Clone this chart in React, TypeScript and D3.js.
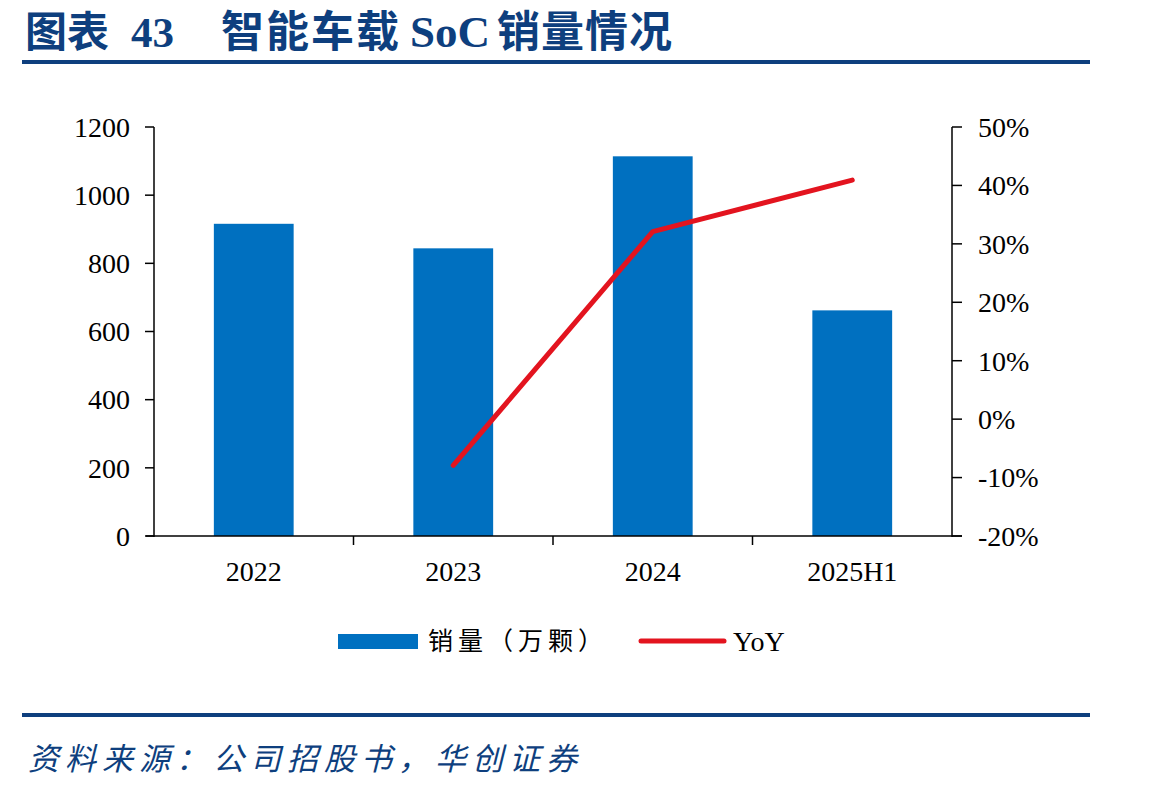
import React from "react";
import * as d3 from "d3";

// Sales volume of in-vehicle intelligent SoCs (10k units) and year-on-year growth
const categories = ["2022", "2023", "2024", "2025H1"];
const salesValues = [916, 844, 1114, 662];
const yoyValues: (number | null)[] = [null, -7.9, 32.1, 40.9];
const leftTicks = [0, 200, 400, 600, 800, 1000, 1200];
const rightTicks = [-20, -10, 0, 10, 20, 30, 40, 50];

const W = 1149;
const H = 792;
const plot = { left: 154, right: 952, top: 127, bottom: 536 };

const navy = "#0E3F7E";
const barColor = "#0070C0";
const lineColor = "#E3141F";
const serif = "'Liberation Serif', 'Times New Roman', 'Noto Sans CJK SC', serif";
const cjk = "'Noto Sans CJK SC', 'Liberation Serif', sans-serif";

export default function App() {
  const x = d3
    .scaleBand<string>()
    .domain(categories)
    .range([plot.left, plot.right])
    .paddingInner(0.6)
    .paddingOuter(0.3);
  const band = d3.scaleBand<string>().domain(categories).range([plot.left, plot.right]);
  const yL = d3.scaleLinear().domain([0, 1200]).range([plot.bottom, plot.top]);
  const yR = d3.scaleLinear().domain([-20, 50]).range([plot.bottom, plot.top]);

  const linePts = categories
    .map((c, i) => ({ c, v: yoyValues[i] }))
    .filter((d) => d.v !== null) as { c: string; v: number }[];
  const linePath = d3
    .line<{ c: string; v: number }>()
    .x((d) => (band(d.c) as number) + band.bandwidth() / 2)
    .y((d) => yR(d.v))(linePts);

  const boundaries = categories.slice(1).map((c) => band(c) as number);

  return (
    <svg
      width={W}
      height={H}
      style={{ position: "absolute", left: 0, top: 0, background: "#fff" }}
    >
      {/* title */}
      <text y={47} fill={navy} fontWeight="bold" fontSize={43} fontFamily={serif}>
        <tspan x={25} fontFamily={cjk} fontSize={42}>图表</tspan>
        <tspan x={131}>43</tspan>
        <tspan x={221} fontFamily={cjk} letterSpacing={2}>智能车载</tspan>
        <tspan x={410} fontSize={45}>SoC</tspan>
        <tspan x={497} fontFamily={cjk} letterSpacing={1}>销量情况</tspan>
      </text>
      <rect x={22} y={60} width={1068} height={4} fill={navy} />

      {/* bars */}
      {categories.map((c, i) => (
        <rect
          key={c}
          x={x(c)}
          y={yL(salesValues[i])}
          width={x.bandwidth()}
          height={plot.bottom - yL(salesValues[i])}
          fill={barColor}
        />
      ))}

      {/* axes */}
      <g stroke="#000" strokeWidth={1.5} fill="none">
        <line x1={plot.left} x2={plot.left} y1={plot.top} y2={plot.bottom + 1} />
        <line x1={plot.right} x2={plot.right} y1={plot.top} y2={plot.bottom + 1} />
        <line x1={plot.left - 8} x2={plot.right + 10} y1={plot.bottom} y2={plot.bottom} />
        {leftTicks.map((t) => (
          <line key={t} x1={plot.left - 9} x2={plot.left} y1={yL(t)} y2={yL(t)} />
        ))}
        {rightTicks.map((t) => (
          <line key={t} x1={plot.right} x2={plot.right + 10} y1={yR(t)} y2={yR(t)} />
        ))}
        {boundaries.map((b, i) => (
          <line key={i} x1={b} x2={b} y1={plot.bottom} y2={plot.bottom + 9} />
        ))}
      </g>

      {/* YoY line */}
      <path
        d={linePath || ""}
        fill="none"
        stroke={lineColor}
        strokeWidth={5}
        strokeLinecap="round"
        strokeLinejoin="round"
      />

      {/* tick labels */}
      <g fontFamily={serif} fontSize={28} fill="#000">
        {leftTicks.map((t) => (
          <text key={t} x={130} y={yL(t)} dy="0.35em" textAnchor="end">
            {t}
          </text>
        ))}
        {rightTicks.map((t) => (
          <text key={t} x={978} y={yR(t)} dy="0.35em">
            {`${t}%`}
          </text>
        ))}
        {categories.map((c) => (
          <text
            key={c}
            x={(band(c) as number) + band.bandwidth() / 2}
            y={581}
            textAnchor="middle"
          >
            {c}
          </text>
        ))}
      </g>

      {/* legend */}
      <rect x={338} y={634} width={80} height={15} fill={barColor} />
      <text x={428} y={650} fontFamily={cjk} fontSize={25} letterSpacing={5} fill="#000">
        销量（万颗）
      </text>
      <line x1={641} x2={724} y1={641} y2={641} stroke={lineColor} strokeWidth={5} strokeLinecap="round" />
      <text x={733} y={651} fontFamily={serif} fontSize={28} fill="#000">
        YoY
      </text>

      {/* footer */}
      <rect x={22} y={713} width={1068} height={4} fill={navy} />
      <text
        x={28}
        y={770}
        fontFamily={cjk}
        fontStyle="italic"
        fontSize={31}
        letterSpacing={6}
        fill={navy}
      >
        资料来源：公司招股书，华创证券
      </text>
    </svg>
  );
}
